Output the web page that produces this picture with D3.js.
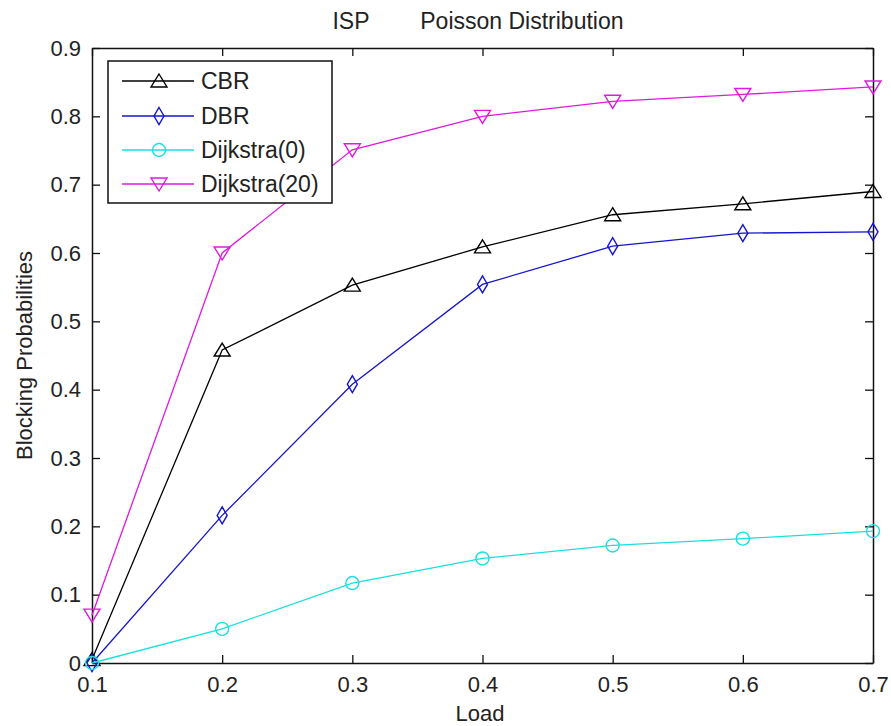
<!DOCTYPE html>
<html><head><meta charset="utf-8">
<script src="https://cdn.jsdelivr.net/npm/d3@7"></script>
<style>body{margin:0;background:#fff}svg{display:block}text{font-family:"Liberation Sans",Arial,sans-serif;fill:#222}</style>
</head><body><svg id="c" width="891" height="726"></svg>
<script>
const loads = [0.1, 0.2, 0.3, 0.4, 0.5, 0.6, 0.7];
const cbr = [0.005, 0.458, 0.553, 0.609, 0.656, 0.672, 0.690];
const dbr = [0.0, 0.216, 0.408, 0.554, 0.610, 0.629, 0.631];
const dijkstra0 = [0.0, 0.050, 0.117, 0.153, 0.172, 0.182, 0.193];
const dijkstra20 = [0.070, 0.600, 0.751, 0.800, 0.822, 0.832, 0.843];
const seriesNames = ["CBR", "DBR", "Dijkstra(0)", "Dijkstra(20)"];
const xTicks = [0.1, 0.2, 0.3, 0.4, 0.5, 0.6, 0.7];
const yTicks = [0, 0.1, 0.2, 0.3, 0.4, 0.5, 0.6, 0.7, 0.8, 0.9];
const titleText = "ISP        Poisson Distribution";
const xLabel = "Load";
const yLabel = "Blocking Probabilities";

const series = [
  {name: seriesNames[0], values: cbr, color: "#000000", marker: "tri"},
  {name: seriesNames[1], values: dbr, color: "#1515d0", marker: "dia"},
  {name: seriesNames[2], values: dijkstra0, color: "#18e0e0", marker: "circ"},
  {name: seriesNames[3], values: dijkstra20, color: "#e018e0", marker: "tridown"}
];

const L = 92, R = 873, T = 48, B = 663;
const svg = d3.select("#c");
const x = d3.scaleLinear().domain([0.1, 0.7]).range([L, R]);
const y = d3.scaleLinear().domain([0, 0.9]).range([B, T]);

function markerPath(type) {
  if (type === "tri") return "M0,-7L8,6L-8,6Z";
  if (type === "tridown") return "M0,7L8,-6L-8,-6Z";
  return "M0,-8.5L5,0L0,8.5L-5,0Z";
}
function drawMarker(g, type, cx, cy, color) {
  if (type === "circ") {
    g.append("circle").attr("cx", cx).attr("cy", cy).attr("r", 6.5)
      .attr("fill", "none").attr("stroke", color).attr("stroke-width", 1.4);
  } else {
    g.append("path").attr("d", markerPath(type)).attr("transform", `translate(${cx},${cy})`)
      .attr("fill", "none").attr("stroke", color).attr("stroke-width", 1.4);
  }
}

const fs = 22;
const xb = svg.append("g").attr("transform", `translate(0,${B})`)
  .call(d3.axisBottom(x).tickValues(xTicks).tickFormat(d3.format(".1f")).tickSizeInner(-8).tickSizeOuter(0).tickPadding(13));
const xt = svg.append("g").attr("transform", `translate(0,${T})`)
  .call(d3.axisTop(x).tickValues(xTicks).tickFormat("").tickSizeInner(-8).tickSizeOuter(0));
const yl = svg.append("g").attr("transform", `translate(${L},0)`)
  .call(d3.axisLeft(y).tickValues(yTicks).tickFormat(d => d === 0 ? "0" : d3.format(".1f")(d)).tickSizeInner(-8).tickSizeOuter(0).tickPadding(11));
const yr = svg.append("g").attr("transform", `translate(${R},0)`)
  .call(d3.axisRight(y).tickValues(yTicks).tickFormat("").tickSizeInner(-8).tickSizeOuter(0));
[xb, xt, yl, yr].forEach(g => {
  g.selectAll("path.domain").attr("stroke", "#111").attr("stroke-width", 1.5);
  g.selectAll(".tick line").attr("stroke", "#111").attr("stroke-width", 1.3);
  g.selectAll("text").style("font-family", '"Liberation Sans",Arial,sans-serif').style("font-size", fs + "px").attr("fill", "#222");
});

const line = d3.line().x((d, i) => x(loads[i])).y(d => y(d));
series.forEach(s => {
  svg.append("path").attr("d", line(s.values)).attr("fill", "none")
    .attr("stroke", s.color).attr("stroke-width", 1.3);
  const g = svg.append("g");
  s.values.forEach((v, i) => drawMarker(g, s.marker, x(loads[i]), y(v), s.color));
});

const lg = svg.append("g");
lg.append("rect").attr("x", 108).attr("y", 61).attr("width", 224).attr("height", 142)
  .attr("fill", "#fff").attr("stroke", "#111").attr("stroke-width", 1.5);
const ly = [81, 116, 150, 184];
series.forEach((s, i) => {
  lg.append("line").attr("x1", 122).attr("x2", 194).attr("y1", ly[i]).attr("y2", ly[i])
    .attr("stroke", s.color).attr("stroke-width", 1.3);
  drawMarker(lg, s.marker, 159, ly[i], s.color);
  lg.append("text").attr("x", 201).attr("y", ly[i]).attr("dy", "0.36em")
    .style("font-size", "23px").text(s.name);
});

svg.append("text").attr("x", 478).attr("y", 29).attr("text-anchor", "middle")
  .style("font-size", "23px").style("white-space", "pre").attr("xml:space", "preserve").text(titleText);
svg.append("text").attr("x", 480).attr("y", 721).attr("text-anchor", "middle")
  .style("font-size", fs + "px").text(xLabel);
svg.append("text").attr("transform", `translate(32,${(T + B) / 2}) rotate(-90)`).attr("text-anchor", "middle")
  .style("font-size", fs + "px").text(yLabel);
</script></body></html>
